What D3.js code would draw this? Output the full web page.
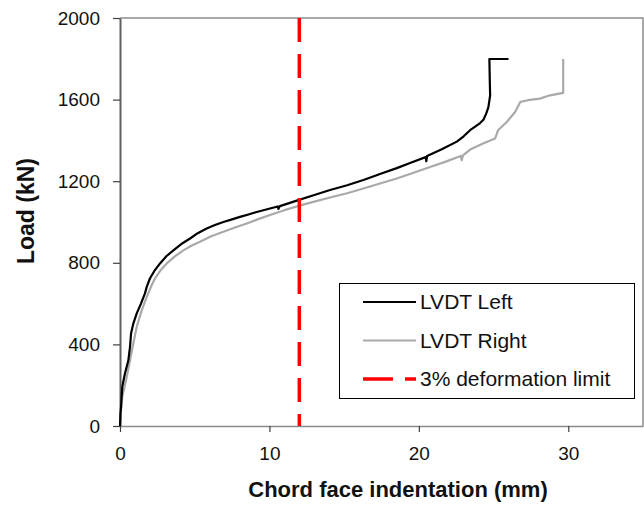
<!DOCTYPE html>
<html>
<head>
<meta charset="utf-8">
<script src="https://cdn.jsdelivr.net/npm/d3@7"></script>
<style>
  html, body { margin: 0; padding: 0; background: #fff; }
  svg { display: block; font-family: Arial, "Liberation Sans", sans-serif; }
</style>
</head>
<body>
<svg id="chart" width="644" height="512"></svg>
<script>
// Chord face indentation (mm) and load (kN) readings for each LVDT
const leftX = [0, 0.03, 0.07, 0.15, 0.33, 0.56, 0.67, 0.74, 0.89, 1.12, 1.41, 1.67, 1.79, 2.0, 2.3, 2.68, 3.1, 3.57, 4.1, 4.69, 5.2, 5.8, 6.35, 6.92, 7.5, 8.03, 8.6, 9.15, 10.04, 10.55, 10.6, 10.7, 11.83, 12.9, 14.06, 15.2, 16.29, 17.4, 18.52, 19.5, 20.45, 20.5, 20.55, 21.5, 22.54, 22.98, 23.43, 24.1, 24.32, 24.5, 24.65, 24.77, 24.75, 24.72, 26.0];
const leftLoad = [0, 60, 93, 191, 257, 322, 388, 453, 502, 552, 601, 650, 682, 723, 760, 797, 832, 861, 892, 919, 945, 968, 985, 1000, 1013, 1025, 1037, 1049, 1066, 1076, 1064, 1078, 1105, 1130, 1157, 1180, 1206, 1235, 1264, 1292, 1318, 1298, 1324, 1355, 1394, 1419, 1450, 1485, 1501, 1530, 1562, 1620, 1681, 1799, 1799];

const rightX = [0, 0.02, 0.15, 0.45, 0.67, 0.89, 1.12, 1.45, 1.79, 2.12, 2.34, 2.7, 3.13, 3.65, 4.24, 4.8, 5.35, 6.1, 6.92, 7.7, 8.48, 9.25, 10.04, 11.0, 12.0, 13.0, 14.06, 15.2, 16.29, 17.4, 18.52, 19.6, 20.75, 21.8, 22.8, 22.87, 22.95, 23.43, 24.3, 25.1, 25.2, 25.3, 25.88, 26.44, 26.8, 27.3, 28.1, 28.78, 29.66, 29.66];
const rightLoad = [20, 44, 142, 240, 322, 404, 486, 567, 633, 690, 723, 762, 797, 830, 861, 885, 903, 930, 952, 973, 993, 1014, 1034, 1058, 1080, 1100, 1120, 1141, 1164, 1189, 1213, 1240, 1270, 1296, 1324, 1303, 1327, 1355, 1385, 1409, 1428, 1450, 1490, 1539, 1589, 1597, 1605, 1621, 1633, 1799];

const limitX = 12; // 3% of chord width
const xTicks = [0, 10, 20, 30];
const yTicks = [0, 400, 800, 1200, 1600, 2000];
const seriesNames = ["LVDT Left", "LVDT Right", "3% deformation limit"];

const svg = d3.select("#chart");
const m = { left: 120, right: 643, top: 18, bottom: 426 };
const FONT = "Arial, 'Liberation Sans', sans-serif";

const x = d3.scaleLinear().domain([0, 35]).range([m.left, m.right]);
const y = d3.scaleLinear().domain([0, 2000]).range([m.bottom, m.top]);

// top and right frame
svg.append("path")
  .attr("d", `M${m.left},${m.top}H${m.right}V${m.bottom}`)
  .attr("fill", "none").attr("stroke", "#8c8c8c").attr("stroke-width", 1.5);

// y axis
const yAxis = svg.append("g")
  .attr("transform", `translate(${m.left},0)`)
  .call(d3.axisLeft(y).tickValues(yTicks).tickFormat(d3.format("d"))
    .tickSize(7).tickSizeOuter(0).tickPadding(13));
yAxis.select(".domain").attr("stroke", "#5f5f5f").attr("stroke-width", 2);
yAxis.selectAll(".tick line").attr("stroke", "#404040").attr("stroke-width", 1.2);
yAxis.selectAll(".tick text").attr("font-size", 19).attr("fill", "#111")
  .attr("font-family", FONT);

// x axis
const xAxis = svg.append("g")
  .attr("transform", `translate(0,${m.bottom})`)
  .call(d3.axisBottom(x).tickValues(xTicks).tickFormat(d3.format("d"))
    .tickSize(6).tickSizeOuter(0));
xAxis.select(".domain").attr("stroke", "#8c8c8c").attr("stroke-width", 1.5);
xAxis.selectAll(".tick line").attr("stroke", "#404040").attr("stroke-width", 1.2);
xAxis.selectAll(".tick text").attr("font-size", 19).attr("fill", "#111")
  .attr("font-family", FONT).attr("dy", null).attr("y", 34);

// axis titles
svg.append("text")
  .attr("x", 398).attr("y", 497)
  .attr("text-anchor", "middle")
  .attr("font-size", 22).attr("font-weight", "bold").attr("fill", "#111")
  .text("Chord face indentation (mm)");

svg.append("text")
  .attr("transform", "translate(34,211) rotate(-90)")
  .attr("text-anchor", "middle")
  .attr("font-size", 23).attr("font-weight", "bold").attr("fill", "#111")
  .text("Load (kN)");

const line = d3.line().x(d => x(d[0])).y(d => y(d[1]));

// gray curve first, black on top
svg.append("path")
  .datum(d3.zip(rightX, rightLoad))
  .attr("d", line)
  .attr("fill", "none").attr("stroke", "#a9a9a9").attr("stroke-width", 2.2)
  .attr("stroke-linejoin", "round");

svg.append("path")
  .datum(d3.zip(leftX, leftLoad))
  .attr("d", line)
  .attr("fill", "none").attr("stroke", "#000").attr("stroke-width", 2.2)
  .attr("stroke-linejoin", "round");

// deformation limit
svg.append("line")
  .attr("x1", x(limitX)).attr("x2", x(limitX))
  .attr("y1", y(2000)).attr("y2", y(0))
  .attr("stroke", "#ff0000").attr("stroke-width", 3.5)
  .attr("stroke-dasharray", "24,12");

// legend
const lg = svg.append("g");
lg.append("rect")
  .attr("x", 339.5).attr("y", 283.5).attr("width", 295).attr("height", 115)
  .attr("fill", "#fff").attr("stroke", "#000").attr("stroke-width", 1);

const legendStyles = [
  { stroke: "#000", width: 2, dash: null },
  { stroke: "#a9a9a9", width: 2, dash: null },
  { stroke: "#ff0000", width: 3.5, dash: "30,12" }
];
seriesNames.forEach((name, i) => {
  const cy = 302 + i * 38.5;
  const st = legendStyles[i];
  lg.append("line")
    .attr("x1", 363).attr("x2", 416).attr("y1", cy).attr("y2", cy)
    .attr("stroke", st.stroke).attr("stroke-width", st.width)
    .attr("stroke-dasharray", st.dash);
  lg.append("text")
    .attr("x", 420).attr("y", cy + 7)
    .attr("font-size", 21).attr("fill", "#111")
    .text(name);
});
</script>
</body>
</html>
